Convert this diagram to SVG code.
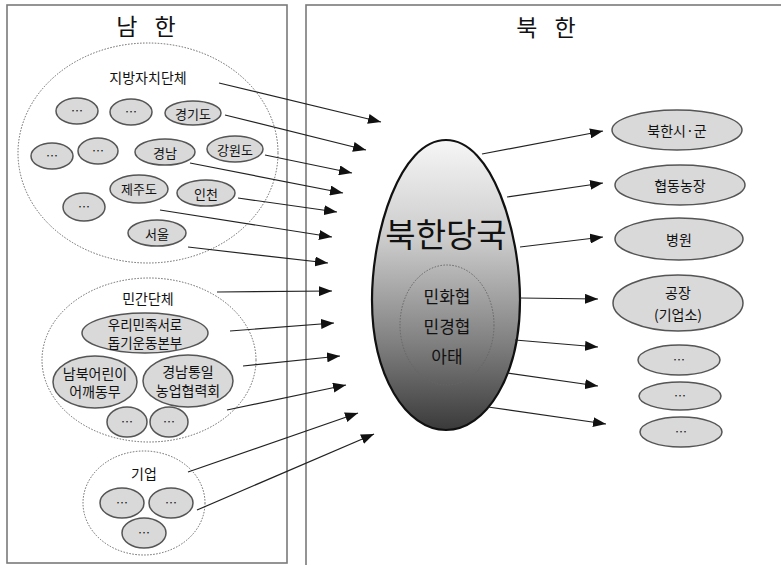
<svg xmlns="http://www.w3.org/2000/svg" width="781" height="565" viewBox="0 0 781 565">
<defs>
<linearGradient id="eggGrad" x1="0" y1="0" x2="0" y2="1">
<stop offset="0" stop-color="#f6f6f6"/>
<stop offset="0.35" stop-color="#cacaca"/>
<stop offset="0.7" stop-color="#808080"/>
<stop offset="1" stop-color="#3a3a3a"/>
</linearGradient>
<marker id="arr" markerUnits="userSpaceOnUse" markerWidth="14" markerHeight="10" refX="13" refY="5" orient="auto">
<path d="M0,0 L13,5 L0,10 Z" fill="#111"/>
</marker>
</defs>
<style>
.panel{fill:#fff;stroke:#7a7a7a;stroke-width:1.6}
.dot{fill:none;stroke:#666;stroke-width:1;stroke-dasharray:1.5 1.5}
.node{fill:#d9d9d9;stroke:#555;stroke-width:1.5}
.t{font-family:"Noto Sans CJK KR","Noto Sans",sans-serif;fill:#111;text-anchor:middle;dominant-baseline:central}
.title{font-size:23px;letter-spacing:6px}
.lab{font-size:14px}
.two{font-size:13.5px}
.sm{font-size:13px}
.el{font-size:12px}
.conn line{stroke:#222;stroke-width:1.2;marker-end:url(#arr)}
</style>
<rect x="0" y="0" width="781" height="565" fill="#fff"/>
<rect class="panel" x="7" y="5" width="280" height="558"/>
<rect class="panel" x="306" y="5" width="490" height="570"/>
<text class="t title" x="149" y="25">남 한</text>
<text class="t title" x="549" y="26">북 한</text>

<g id="local-gov">
<ellipse class="dot" cx="148" cy="153" rx="130" ry="110"/>
<text class="t lab" x="148" y="77">지방자치단체</text>
</g>
<g id="lg-e1"><ellipse class="node" cx="77" cy="111" rx="21" ry="13"/><text class="t el" x="77" y="110">…</text></g>
<g id="lg-e2"><ellipse class="node" cx="131" cy="112" rx="21" ry="13"/><text class="t el" x="131" y="111">…</text></g>
<g id="gyeonggi"><ellipse class="node" cx="193" cy="113" rx="28" ry="12"/><text class="t sm" x="193" y="113">경기도</text></g>
<g id="lg-e3"><ellipse class="node" cx="52" cy="156" rx="21" ry="13"/><text class="t el" x="52" y="155">…</text></g>
<g id="lg-e4"><ellipse class="node" cx="98" cy="151" rx="20" ry="13"/><text class="t el" x="98" y="150">…</text></g>
<g id="gyeongnam"><ellipse class="node" cx="165" cy="152" rx="30" ry="13"/><text class="t sm" x="165" y="152">경남</text></g>
<g id="gangwon"><ellipse class="node" cx="235" cy="149" rx="28" ry="13"/><text class="t sm" x="235" y="149">강원도</text></g>
<g id="jeju"><ellipse class="node" cx="139" cy="189" rx="29" ry="14"/><text class="t sm" x="139" y="188">제주도</text></g>
<g id="incheon"><ellipse class="node" cx="206" cy="193" rx="29" ry="13"/><text class="t sm" x="206" y="193">인천</text></g>
<g id="lg-e5"><ellipse class="node" cx="84" cy="207" rx="21" ry="14"/><text class="t el" x="84" y="206">…</text></g>
<g id="seoul"><ellipse class="node" cx="157" cy="233" rx="29" ry="13"/><text class="t sm" x="157" y="233">서울</text></g>

<g id="civil">
<ellipse class="dot" cx="149" cy="360" rx="107" ry="82"/>
<text class="t lab" x="148" y="298">민간단체</text>
</g>
<g id="woori"><ellipse class="node" cx="145" cy="333" rx="63" ry="20"/><text class="t two" x="145" y="324">우리민족서로</text><text class="t two" x="145" y="342">돕기운동본부</text></g>
<g id="okedongmu"><ellipse class="node" cx="95" cy="382" rx="42" ry="26"/><text class="t lab" x="95" y="373">남북어린이</text><text class="t lab" x="95" y="391">어깨동무</text></g>
<g id="gyeongnam-union"><ellipse class="node" cx="188" cy="381" rx="45" ry="26"/><text class="t lab" x="188" y="371">경남통일</text><text class="t lab" x="188" y="390">농업협력회</text></g>
<g id="cv-e1"><ellipse class="node" cx="127" cy="422" rx="20" ry="15"/><text class="t el" x="127" y="421">…</text></g>
<g id="cv-e2"><ellipse class="node" cx="169" cy="422" rx="19" ry="15"/><text class="t el" x="169" y="421">…</text></g>

<g id="company">
<ellipse class="dot" cx="144" cy="503" rx="61" ry="52"/>
<text class="t lab" x="144" y="473">기업</text>
</g>
<g id="co-e1"><ellipse class="node" cx="122" cy="503" rx="22" ry="15"/><text class="t el" x="122" y="502">…</text></g>
<g id="co-e2"><ellipse class="node" cx="171" cy="503" rx="22" ry="15"/><text class="t el" x="171" y="502">…</text></g>
<g id="co-e3"><ellipse class="node" cx="144" cy="533" rx="22" ry="15"/><text class="t el" x="144" y="532">…</text></g>

<g id="nk-authority">
<path d="M446,140 C492,140 520,232 520,300 C520,376 486,430 446,430 C406,430 372,376 372,300 C372,232 400,140 446,140 Z" fill="url(#eggGrad)" stroke="#111" stroke-width="2.2"/>
<text class="t" x="446" y="233" font-size="33">북한당국</text>
<ellipse class="dot" cx="447" cy="325" rx="47" ry="60" stroke="#555"/>
<text class="t" x="447" y="295" font-size="17">민화협</text>
<text class="t" x="447" y="325" font-size="17">민경협</text>
<text class="t" x="447" y="355" font-size="17">아태</text>
</g>

<g id="nk-city"><ellipse class="node" cx="677" cy="130" rx="65" ry="20"/><text class="t lab" x="677" y="130">북한시·군</text></g>
<g id="coop-farm"><ellipse class="node" cx="680" cy="185" rx="65" ry="20"/><text class="t lab" x="680" y="185">협동농장</text></g>
<g id="hospital"><ellipse class="node" cx="679" cy="239" rx="64" ry="21"/><text class="t lab" x="679" y="239">병원</text></g>
<g id="factory"><ellipse class="node" cx="678" cy="303" rx="65" ry="28"/><text class="t lab" x="678" y="292">공장</text><text class="t lab" x="678" y="314">(기업소)</text></g>
<g id="nk-e1"><ellipse class="node" cx="679" cy="360" rx="41" ry="15"/><text class="t el" x="679" y="359">…</text></g>
<g id="nk-e2"><ellipse class="node" cx="680" cy="396" rx="41" ry="14"/><text class="t el" x="680" y="395">…</text></g>
<g id="nk-e3"><ellipse class="node" cx="681" cy="432" rx="41" ry="15"/><text class="t el" x="681" y="431">…</text></g>

<g id="connectors" class="conn">
<line x1="219" y1="83" x2="381" y2="122"/>
<line x1="225" y1="115" x2="366" y2="150"/>
<line x1="265" y1="155" x2="352" y2="173"/>
<line x1="190" y1="163" x2="343" y2="193"/>
<line x1="238" y1="198" x2="337" y2="212"/>
<line x1="160" y1="210" x2="332" y2="237"/>
<line x1="188" y1="247" x2="328" y2="263"/>
<line x1="217" y1="292" x2="332" y2="291"/>
<line x1="230" y1="331" x2="334" y2="323"/>
<line x1="243" y1="366" x2="340" y2="356"/>
<line x1="227" y1="410" x2="346" y2="385"/>
<line x1="188" y1="472" x2="358" y2="413"/>
<line x1="197" y1="510" x2="374" y2="434"/>
<line x1="482" y1="154" x2="603" y2="131"/>
<line x1="507" y1="197" x2="603" y2="183"/>
<line x1="520" y1="247" x2="603" y2="237"/>
<line x1="520" y1="298" x2="598" y2="299"/>
<line x1="515" y1="340" x2="598" y2="347"/>
<line x1="507" y1="373" x2="598" y2="386"/>
<line x1="488" y1="407" x2="606" y2="424"/>
</g>
</svg>
